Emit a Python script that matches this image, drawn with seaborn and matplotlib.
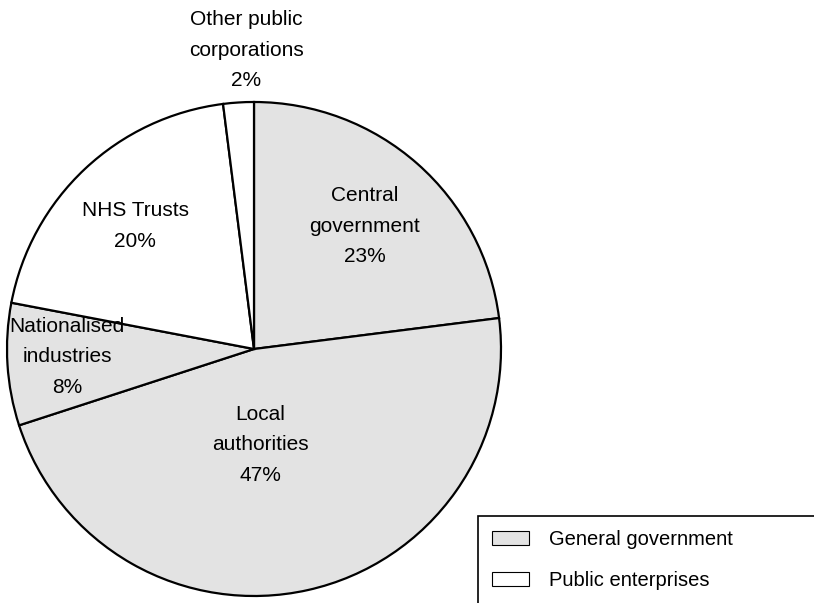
import matplotlib
matplotlib.use("Agg")
import matplotlib.pyplot as plt
import seaborn as sns
from matplotlib.patches import Patch, Rectangle

sns.set_theme(style="white")
plt.rcParams['font.family'] = ['Liberation Sans', 'DejaVu Sans']

categories = ["Central\ngovernment", "Local\nauthorities", "Nationalised\nindustries",
              "NHS Trusts", "Other public\ncorporations"]
values = [23, 47, 8, 20, 2]
groups = ["General government", "General government", "General government",
          "Public enterprises", "Public enterprises"]
group_colors = {"General government": "#e3e3e3", "Public enterprises": "#ffffff"}
label_pos = [(365, 226), (260, 445), (67, 357), (135, 226), (246, 50)]

W, H = 814, 603
fig = plt.figure(figsize=(W / 100, H / 100), dpi=100)
cx, cy, r = 254, 349, 247
ax = fig.add_axes([(cx - r) / W, (H - cy - r) / H, 2 * r / W, 2 * r / H])
colors = [group_colors[g] for g in groups]
ax.pie(values, colors=colors, startangle=90, counterclock=False, radius=1,
       wedgeprops=dict(edgecolor="black", linewidth=1.6))
ax.set_xlim(-1, 1)
ax.set_ylim(-1, 1)
ax.axis("off")

for cat, v, (px, py) in zip(categories, values, label_pos):
    fig.text(px / W, 1 - py / H, f"{cat}\n{v}%", ha="center", va="center",
             fontsize=15, color="black", linespacing=1.75)

# legend frame (extends past figure edge)
fig.add_artist(Rectangle((478 / W, 1 - 640 / H), 400 / W, 124 / H,
                         transform=fig.transFigure, facecolor="white",
                         edgecolor="black", linewidth=1.2, clip_on=False))
handles = [Patch(facecolor=group_colors[g], edgecolor="black", linewidth=0.8, label=g)
           for g in ["General government", "Public enterprises"]]
fig.legend(handles=handles, loc="upper left", bbox_to_anchor=(492 / W, 1 - 530 / H),
           frameon=False, fontsize=14.5, handlelength=1.85, handleheight=0.7,
           handletextpad=1.0, labelspacing=1.1, borderaxespad=0, borderpad=0,
           labelcolor="black")

fig.savefig("out.png", dpi=100, facecolor="white")
